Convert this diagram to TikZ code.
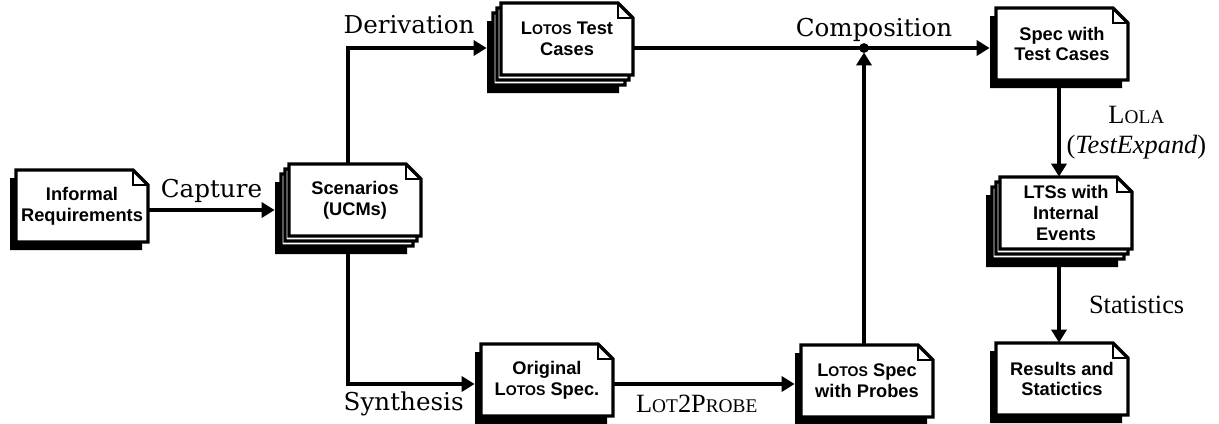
\documentclass[tikz,border=0pt]{standalone}
\usepackage{fontspec}
\setmainfont{Liberation Serif}
\setsansfont{Liberation Sans}
\newfontfamily\stepfont{DejaVu Serif}
\usetikzlibrary{arrows.meta}

\newcommand\lotos{L{\footnotesize OTOS}}
\newcommand\smallcap[1]{{\fontsize{11}{13}\selectfont #1}}

% one sheet of paper, centred on (0,0), dog-ear top right
\tikzset{
  pics/sheet/.style={code={
    \draw[fill=white, line width=1.9pt] (-66,-36) -- (51,-36) -- (66,-21) -- (66,36) -- (-66,36) -- cycle;
    \draw[line width=1.3pt] (51,-36) |- (66,-21);
  }},
  pics/shadow/.style={code={
    \fill (-66,-36) -- (51,-36) -- (66,-21) -- (66,36) -- (-66,36) -- cycle;
  }},
  flow/.style={line width=1.9pt, -{Triangle[length=0.26cm, width=0.3cm]}},
  doctext/.style={font=\sffamily\bfseries\fontsize{10.4}{11.8}\selectfont, align=center},
  steplbl/.style={font=\stepfont\fontsize{14}{16}\selectfont},
  toollbl/.style={font=\rmfamily\fontsize{15}{17}\selectfont},
}

% \docs{name}{x}{y}{back sheets}{text}
\newcommand\docs[5]{%
  \pic at (#2-6-4*#4, #3+8+5*#4) {shadow};
  \foreach \k in {#4,...,0} {\pic at (#2-4*\k, #3+5*\k) {sheet};}
  \node[inner sep=0pt, minimum width={(138+4*#4)*0.02cm}, minimum height={(80+5*#4)*0.02cm}] (#1) at (#2-3-2*#4, #3+4+2.5*#4) {};
  \node[doctext] (#1-text) at (#2,#3) {#5};
}

\begin{document}
\begin{tikzpicture}[x=0.02cm, y=-0.02cm]
  \useasboundingbox (0,0) rectangle (1219,423);

  % documents
  \docs{req}{82}{206}{0}{Informal\\Requirements}
  \docs{scen}{355}{200}{2}{Scenarios\\(UCMs)}
  \docs{tc}{567}{39}{2}{\lotos{} Test\\Cases}
  \docs{orig}{547}{380}{0}{Original\\\lotos{} Spec.}
  \docs{probes}{867}{381}{0}{\lotos{} Spec\\with Probes}
  \docs{spec}{1062}{44}{0}{Spec with\\Test Cases}
  \docs{lts}{1066}{213}{2}{LTSs with\\Internal\\Events}
  \docs{res}{1062}{379}{0}{Results and\\Statictics}

  % steps
  \coordinate[label={[steplbl, xshift=0.2cm]above:Composition}] (comp) at (probes.north |- tc.east);
  \draw[flow] (req.east) -- node[steplbl, above] {Capture} (req.east -| scen.west);
  \draw[flow] (scen.north) |- node[steplbl, above, pos=0.72, yshift=4pt] {Derivation} (tc.west);
  \draw[flow] (scen.south) |- node[steplbl, below, pos=0.72] {Synthesis} (orig.west);
  \draw[flow] (orig.east) -- node[toollbl, below, pos=0.46, yshift=-2pt] {L\smallcap{OT}2P\smallcap{ROBE}} (orig.east -| probes.west);
  \draw[flow, shorten >=2.5pt] (probes.north) -- (comp);
  \draw[flow] (tc.east) -- (tc.east -| spec.west);
  \fill (comp) circle (2.8pt);
  \draw[flow] (spec.south) -- node[toollbl, right, pos=0.5, align=center] {L\smallcap{OLA}\\(\textit{TestExpand})} (spec.south |- lts.north);
  \draw[flow] (lts.south) -- node[toollbl, right=0.45cm] {Statistics} (lts.south |- res.north);
\end{tikzpicture}
\end{document}
